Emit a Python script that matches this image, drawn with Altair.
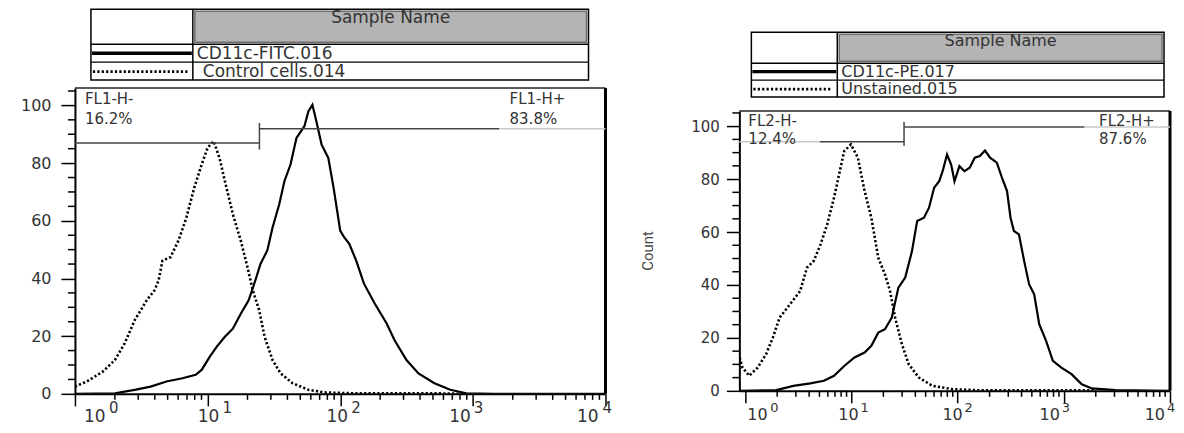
import altair as alt
import pandas as pd

# ---------------- data ----------------
# Left panel (FL1): stained sample and control
fitc_x = [1.0, 2.0, 2.82, 3.72, 4.9, 6.46, 8.13, 9.02, 10.4, 11.7, 13.5, 15.5, 17.8, 20.4, 22.9,
          25.1, 28.2, 30.9, 34.7, 38.0, 42.2, 46.8, 53.7, 57.5, 61.7, 66.1, 72.4, 81.3, 89.1, 100,
          107, 117, 132, 151, 182, 224, 257, 316, 389, 513, 676, 891, 1445, 10000]
fitc_y = [0, 0.2, 1.4, 2.5, 4.3, 5.4, 6.6, 8.3, 12.9, 16.3, 19.8, 22.6, 27.8, 32.4, 39.3,
          45.1, 49.7, 57.7, 65.7, 73.8, 79.5, 88.7, 92.8, 97.9, 100.2, 94.5, 86.4, 81.8, 71.5, 56.6,
          54.3, 52.0, 46.2, 38.2, 31.3, 24.4, 18.6, 11.7, 7.1, 3.7, 1.4, 0.2, 0, 0]
ctrl_x = [1.0, 1.23, 1.62, 2.0, 2.37, 2.82, 3.47, 3.98, 4.27, 4.57, 5.25, 6.03, 6.92, 7.94, 9.02,
          10.0, 11.1, 12.3, 13.5, 15.5, 17.8, 20.0, 21.9, 24.5, 26.9, 30.9, 35.5, 43.7, 57.5, 75.9,
          126, 251, 501, 891]
ctrl_y = [2.5, 4.3, 7.7, 11.7, 17.5, 25.5, 32.4, 35.9, 39.3, 46.2, 47.4, 53.1, 61.1, 71.5, 79.5,
          85.3, 87.6, 81.8, 73.8, 62.3, 53.1, 43.9, 35.9, 29.0, 19.8, 11.7, 7.1, 3.7, 1.4, 0.5,
          0.2, 0.2, 0.2, 0]
left_samples = ["CD11c-FITC.016", "Control cells.014"]
left_gate_names = ["FL1-H-", "FL1-H+"]
left_gate_pcts = ["16.2%", "83.8%"]
left_gate_x = 24.6
left_neg_level = 87.0
left_pos_level = 91.9

# Right panel (FL2): stained sample and unstained
pe_x = [0.887, 1.96, 2.84, 4.10, 5.51, 6.86, 8.55, 10.7, 13.3, 15.4, 17.9, 20.7, 24.0, 27.7, 32.1,
        37.2, 41.6, 48.2, 53.8, 60.1, 67.1, 72.3, 79.5, 86.9, 93.5, 104, 116, 130, 145, 162,
        181, 202, 234, 262, 292, 315, 339, 378, 423, 471, 526, 587, 681, 789, 948, 1183, 1476,
        1837, 3076, 10000]
pe_y = [0, 0.25, 1.9, 2.8, 3.8, 5.7, 9.4, 12.6, 14.5, 17.0, 22.0, 23.3, 27.7, 39.0, 42.8,
        52.8, 64.2, 65.4, 69.2, 76.7, 79.2, 83.0, 89.3, 85.5, 79.2, 84.9, 83.0, 84.3, 88.1, 88.7,
        90.8, 88.1, 86.2, 80.5, 75.5, 65.4, 60.4, 59.1, 49.1, 40.3, 36.5, 25.2, 18.9, 11.3, 8.8,
        6.3, 2.5, 0.9, 0.25, 0]
unst_x = [0.887, 0.942, 1.09, 1.31, 1.57, 1.82, 2.11, 2.64, 3.29, 3.81, 4.42, 5.12, 5.92, 6.86,
          7.66, 8.55, 9.91, 11.5, 13.3, 15.4, 17.9, 20.7, 23.1, 25.8, 29.9, 34.6, 43.2, 57.9,
          90.2, 162, 1476, 2000]
unst_y = [12.6, 8.8, 5.7, 8.8, 13.8, 20.1, 27.7, 32.7, 37.7, 46.5, 49.1, 55.3, 62.9, 73.0,
          81.8, 90.6, 93.1, 88.1, 75.5, 65.4, 50.3, 44.0, 37.7, 27.7, 17.6, 10.1, 5.0, 1.9,
          0.6, 0.25, 0.25, 0.2]
right_samples = ["CD11c-PE.017", "Unstained.015"]
right_gate_names = ["FL2-H-", "FL2-H+"]
right_gate_pcts = ["12.4%", "87.6%"]
right_gate_x = 31.3
right_neg_level = 94.1
right_pos_level = 99.7

decades = [1, 10, 100, 1000, 10000]
decade_base = "10"
exponents = ["0", "1", "2", "3", "4"]
minor_x = [m * d for d in [1, 10, 100, 1000] for m in range(2, 10)]
y_major = [0, 20, 40, 60, 80, 100]
y_minor = [v for v in range(5, 106, 5) if v % 20]
table_header = "Sample Name"
y_title = "Count"

FONT = "DejaVu Sans"
INK = "#333333"


def one():
    return alt.Data(values=[{}])


def hrule(x1, x2, y, color="black", w=1.5, dash=None):
    kw = dict(color=color, strokeWidth=w)
    if dash:
        kw["strokeDash"] = dash
    return alt.Chart(one()).mark_rule(**kw).encode(
        x=alt.value(x1), x2=alt.value(x2), y=alt.value(y))


def vrule(x, y1, y2, color="black", w=1.5):
    return alt.Chart(one()).mark_rule(color=color, strokeWidth=w).encode(
        x=alt.value(x), y=alt.value(y1), y2=alt.value(y2))


def rect(x1, x2, y1, y2, fill, stroke, sw, fop=1.0):
    return alt.Chart(one()).mark_rect(fill=fill, fillOpacity=fop, stroke=stroke,
                                      strokeWidth=sw).encode(
        x=alt.value(x1), x2=alt.value(x2), y=alt.value(y1), y2=alt.value(y2))


def label(txt, x, y, size, align="left", color=INK, font=FONT, angle=None):
    kw = dict(align=align, baseline="middle", font=font, fontSize=size, color=color)
    if angle is not None:
        kw["angle"] = angle
    return alt.Chart(one()).mark_text(**kw).encode(
        x=alt.value(x), y=alt.value(y), text=alt.value(txt))


def panel(c):
    W, H = c["W"], c["H"]
    xdom, ydom = c["xdom"], c["ydom"]
    xs = alt.Scale(type="log", domain=xdom)
    ys = alt.Scale(domain=ydom, range=c["yrange"])
    xaxis = alt.Axis(values=decades, labels=False, tickSize=12, tickWidth=1.5,
                     tickColor="black", domainColor="black", domainWidth=2,
                     grid=False, title=None)
    yaxis = alt.Axis(values=y_major, tickSize=c["ytick"], tickWidth=1.5, tickColor="black",
                     domainColor="black", domainWidth=2, labelFont=FONT,
                     labelFontSize=c["ylab"], labelColor=INK, labelPadding=c["ypad"],
                     labelBaseline="middle", labelFlush=False, labelOverlap=False,
                     grid=False, title=None)

    def X(f="x"):
        return alt.X(f"{f}:Q", scale=xs, axis=xaxis)

    def Y(f="y"):
        return alt.Y(f"{f}:Q", scale=ys, axis=yaxis)

    L = []
    # curves
    L.append(alt.Chart(pd.DataFrame({"x": c["cx"], "y": c["cy"]})).mark_line(
        color="black", strokeWidth=2.6, strokeDash=[2.2, 2.2], clip=True).encode(x=X(), y=Y()))
    L.append(alt.Chart(pd.DataFrame({"x": c["sx"], "y": c["sy"]})).mark_line(
        color="black", strokeWidth=2.2, clip=True).encode(x=X(), y=Y()))
    # frame
    L.append(alt.Chart(pd.DataFrame({"x": [xdom[0]], "x2": [xdom[1]], "y": [ydom[1]]})).mark_rule(
        color="#222222", strokeWidth=1.5).encode(x=X(), x2=alt.X2("x2"), y=Y()))
    L.append(alt.Chart(pd.DataFrame({"x": [xdom[1]], "y": [0], "y2": [ydom[1]]})).mark_rule(
        color="black", strokeWidth=3).encode(x=X(), y=Y(), y2=alt.Y2("y2")))
    # minor ticks
    L.append(alt.Chart(pd.DataFrame({"x": minor_x})).mark_rule(
        color="black", strokeWidth=1.5).encode(x=X(), y=alt.value(H), y2=alt.value(H + 6)))
    L.append(alt.Chart(pd.DataFrame({"y": y_minor})).mark_rule(
        color="black", strokeWidth=1.5).encode(y=Y(), x=alt.value(-7), x2=alt.value(0)))
    # decade labels "10" with raised exponents, placed at the decade ticks
    for d, e, (al, dx10, dxe) in zip(decades, exponents, c["labpos"]):
        df = pd.DataFrame({"x": [d], "b": [decade_base], "e": [e]})
        L.append(alt.Chart(df).mark_text(
            align=al, baseline="alphabetic", font=FONT, fontSize=c["xlab"], color=INK,
            dx=dx10).encode(x=X(), y=alt.value(H + c["base_y"]), text="b:N"))
        L.append(alt.Chart(df).mark_text(
            align="left", baseline="alphabetic", font=FONT, fontSize=c["elab"], color=INK,
            dx=dxe).encode(x=X(), y=alt.value(H + c["exp_y"]), text="e:N"))
    # gates
    g = c["gate"]
    L.append(alt.Chart(pd.DataFrame(g["segs"])).mark_rule(strokeWidth=1.5).encode(
        x=X(), x2=alt.X2("x2"), y=Y(), color=alt.Color("c:N", scale=None)))
    L.append(alt.Chart(pd.DataFrame({"x": [g["x"]], "y": [g["lo"]], "y2": [g["hi"]]})).mark_rule(
        color="#444444", strokeWidth=1.5).encode(x=X(), y=Y(), y2=alt.Y2("y2")))
    for txt, (px, py) in zip(c["gtexts"], c["gpos"]):
        L.append(label(txt, px, py, 15))
    # table
    t = c["table"]
    x0, x1, xd, y0, yh, y1, y2 = t["x0"], t["x1"], t["xd"], t["y0"], t["yh"], t["y1"], t["y2"]
    L.append(rect(xd + 2, x1 - 2, y0 + 2, yh - 2, "#b4b4b4", "#6e6e6e", 1.5))
    L.append(rect(x0, x1, y0, y2, "white", "black", 1.5, fop=0.0))
    L.append(hrule(x0, x1, yh, "black", 1.5))
    L.append(hrule(x0, x1, y1, "black", 1.2))
    L.append(vrule(xd, y0, y2, "black", 1.5))
    L.append(label(table_header, (xd + x1) / 2, y0 + 9, t["fs"], align="center"))
    r1 = (yh + y1) / 2
    r2 = (y1 + y2) / 2
    L.append(hrule(x0 + 1, xd - 1, r1, "black", 3.5))
    L.append(hrule(x0 + 2, xd - 5, r2 + 0.5, "black", 2.6, dash=[2.2, 2.2]))
    L.append(label(c["samples"][0], xd + 4, r1 + 0.5, t["fs"]))
    L.append(label(c["samples"][1], xd + t["dx2"], r2 + 0.5, t["fs"]))
    if c.get("ytitle"):
        L.append(label(c["ytitle"], c["ytpos"][0], c["ytpos"][1], 15, align="center",
                       color="#444444", font="Roboto", angle=270))
    return alt.layer(*L).properties(width=W, height=H)


left_cfg = dict(
    W=531, H=306, xdom=[1, 10000], ydom=[0, 106], yrange=[306, 0],
    xlab=17, elab=15, ylab=16, ytick=14, ypad=10, base_y=28, exp_y=19,
    labpos=[("left", 9, 34), ("center", 1, 15), ("center", -3, 11),
            ("right", -2, 1), ("right", -7, -3)],
    sx=fitc_x, sy=fitc_y, cx=ctrl_x, cy=ctrl_y, samples=left_samples,
    gate=dict(x=left_gate_x, lo=84.7, hi=93.9, segs={
        "x": [1, left_gate_x, 1585], "x2": [left_gate_x, 1585, 10000],
        "y": [left_neg_level, left_pos_level, left_pos_level],
        "c": ["#444444", "#444444", "#c8c8c8"]}),
    gtexts=[left_gate_names[0], left_gate_pcts[0], left_gate_names[1], left_gate_pcts[1]],
    gpos=[(10, 11), (10, 31), (435, 11), (435, 31)],
    table=dict(x0=16, x1=514, xd=118, y0=-79, yh=-44, y1=-26, y2=-8, fs=17, dx2=10),
)

right_cfg = dict(
    W=431, H=303, xdom=[0.881, 10000], ydom=[0, 105.7], yrange=[303, 23],
    xlab=16, elab=13, ylab=15, ytick=13, ypad=7, base_y=29, exp_y=21,
    labpos=[("left", 2, 25), ("center", -3, 9), ("center", -5, 7),
            ("right", -4, -2), ("right", -5, -3)],
    sx=pe_x, sy=pe_y, cx=unst_x, cy=unst_y, samples=right_samples,
    gate=dict(x=right_gate_x, lo=92.5, hi=101.6, segs={
        "x": [0.881, 5.04, right_gate_x, 1567], "x2": [5.04, right_gate_x, 1567, 10000],
        "y": [right_neg_level, right_neg_level, right_pos_level, right_pos_level],
        "c": ["#c8c8c8", "#444444", "#444444", "#c8c8c8"]}),
    gtexts=[right_gate_names[0], right_gate_pcts[0], right_gate_names[1], right_gate_pcts[1]],
    gpos=[(9, 33), (9, 51), (360, 33), (360, 51)],
    table=dict(x0=12, x1=425, xd=98, y0=-56, yh=-25, y1=-8, y2=9, fs=16, dx2=4),
    ytitle=y_title, ytpos=(-91, 163),
)

chart = alt.hconcat(panel(left_cfg), panel(right_cfg), spacing=134, bounds="flush").properties(
    padding={"left": 12, "top": 0, "right": 0, "bottom": 0}
).configure_view(stroke=None)

chart.save("out.html", embed_options={"renderer": "svg", "actions": False})
